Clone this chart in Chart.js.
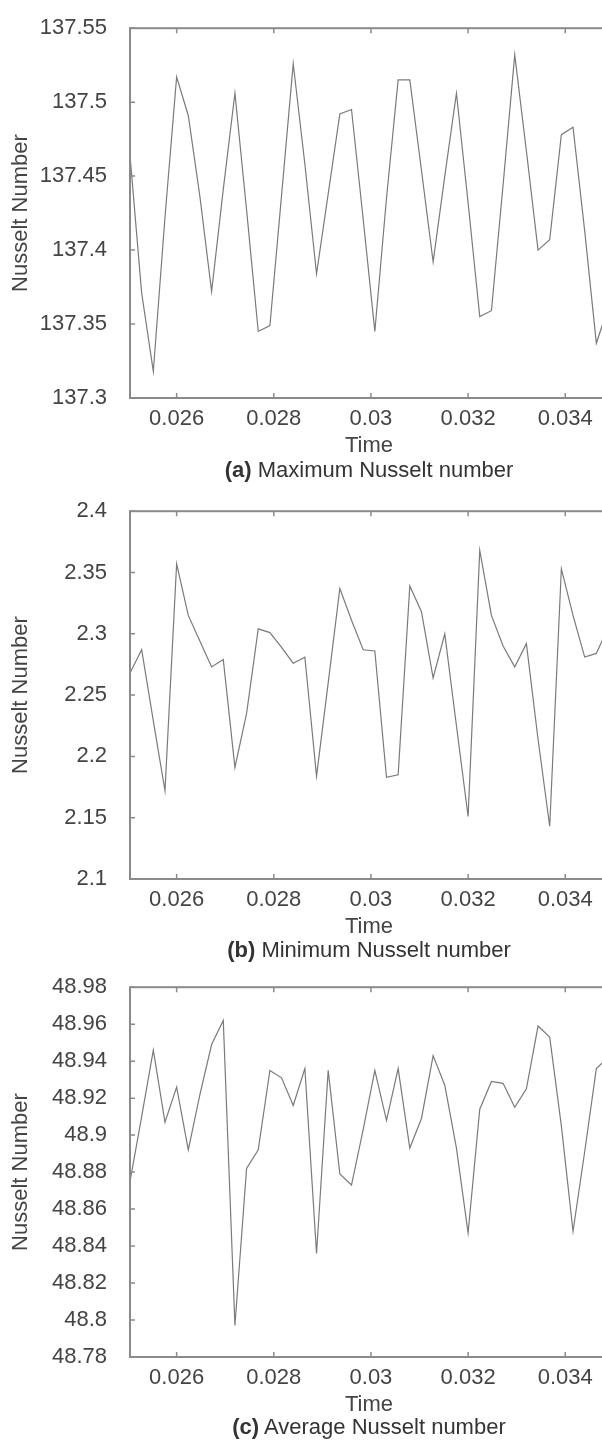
<!DOCTYPE html>
<html>
<head>
<meta charset="utf-8">
<script src="https://cdn.jsdelivr.net/npm/chart.js@4.4.1/dist/chart.umd.min.js"></script>
<style>
  html, body { margin: 0; padding: 0; background: #fff; overflow: hidden; }
  #wrap { position: relative; width: 602px; height: 1442px; overflow: hidden; }
  canvas { position: absolute; left: 0; }
  .cap {
    position: absolute; left: 130px; width: 478px; text-align: center;
    font: 22px "Liberation Sans", Arial, sans-serif; line-height: 26px; color: #333;
  }
</style>
</head>
<body>
<div id="wrap">
  <canvas id="nuMax" width="612" height="462" style="top:0px"></canvas>
  <div class="cap" style="top:457px"><b>(a)</b> Maximum Nusselt number</div>
  <canvas id="nuMin" width="612" height="460" style="top:483px"></canvas>
  <div class="cap" style="top:937px"><b>(b)</b> Minimum Nusselt number</div>
  <canvas id="nuAvg" width="612" height="462" style="top:959px"></canvas>
  <div class="cap" style="top:1414px"><b>(c)</b> Average Nusselt number</div>
</div>
<script>
// Eixo X: tempo (s)
const tempo = [
  0.02504, 0.02528, 0.02552, 0.02576, 0.02600, 0.02624, 0.02648, 0.02672, 0.02696, 0.02720,
  0.02744, 0.02768, 0.02792, 0.02816, 0.02840, 0.02864, 0.02888, 0.02912, 0.02936, 0.02960,
  0.02984, 0.03008, 0.03032, 0.03056, 0.03080, 0.03104, 0.03128, 0.03152, 0.03176, 0.03200,
  0.03224, 0.03248, 0.03272, 0.03296, 0.03320, 0.03344, 0.03368, 0.03392, 0.03416, 0.03440,
  0.03464, 0.03488
];

// (a) Maximum Nusselt number
const nuMax = [
  137.464, 137.371, 137.318, 137.422, 137.517, 137.491, 137.436, 137.372, 137.441, 137.506,
  137.427, 137.345, 137.349, 137.437, 137.526, 137.458, 137.384, 137.438, 137.492, 137.495,
  137.421, 137.345, 137.435, 137.515, 137.515, 137.454, 137.392, 137.450, 137.506, 137.432,
  137.355, 137.359, 137.444, 137.532, 137.467, 137.400, 137.407, 137.478, 137.483, 137.413,
  137.337, 137.361
];

// (b) Minimum Nusselt number
const nuMin = [
  2.268, 2.287, 2.229, 2.172, 2.357, 2.315, 2.294, 2.273, 2.279, 2.191,
  2.235, 2.304, 2.301, 2.289, 2.276, 2.281, 2.184, 2.260, 2.337, 2.311,
  2.287, 2.286, 2.183, 2.185, 2.339, 2.318, 2.264, 2.300, 2.225, 2.151,
  2.368, 2.315, 2.290, 2.273, 2.292, 2.214, 2.143, 2.353, 2.315, 2.281,
  2.284, 2.305
];

// (c) Average Nusselt number
const nuAvg = [
  48.875, 48.910, 48.946, 48.907, 48.926, 48.892, 48.922, 48.949, 48.962, 48.797,
  48.882, 48.892, 48.935, 48.931, 48.916, 48.936, 48.836, 48.935, 48.879, 48.873,
  48.903, 48.935, 48.908, 48.936, 48.893, 48.909, 48.943, 48.927, 48.893, 48.847,
  48.914, 48.929, 48.928, 48.915, 48.925, 48.959, 48.953, 48.905, 48.848, 48.891,
  48.936, 48.942
];

// Ticks
const xTicks = [0.026, 0.028, 0.030, 0.032, 0.034];
const yTicksMax = [137.3, 137.35, 137.4, 137.45, 137.5, 137.55];
const yTicksMin = [2.1, 2.15, 2.2, 2.25, 2.3, 2.35, 2.4];
const yTicksAvg = [48.78, 48.8, 48.82, 48.84, 48.86, 48.88, 48.9, 48.92, 48.94, 48.96, 48.98];

const fonte = { family: '"Liberation Sans", Arial, sans-serif', size: 22 };
const corTexto = '#444444';

// moldura com ticks para dentro, nos quatro lados
const moldura = {
  id: 'moldura',
  afterDatasetsDraw(chart) {
    const { ctx, chartArea: a, scales: { x, y } } = chart;
    ctx.save();
    ctx.strokeStyle = '#8a8a8a';
    ctx.lineWidth = 1.5;
    ctx.beginPath();
    x.ticks.forEach(t => {
      const px = x.getPixelForValue(t.value);
      ctx.moveTo(px, a.bottom); ctx.lineTo(px, a.bottom - 5);
      ctx.moveTo(px, a.top); ctx.lineTo(px, a.top + 5);
    });
    y.ticks.forEach(t => {
      const py = y.getPixelForValue(t.value);
      ctx.moveTo(a.left, py); ctx.lineTo(a.left + 5, py);
      ctx.moveTo(a.right, py); ctx.lineTo(a.right - 5, py);
    });
    ctx.stroke();
    ctx.lineWidth = 2;
    ctx.strokeRect(a.left, a.top, a.right - a.left, a.bottom - a.top);
    ctx.restore();
  }
};

function grafico(id, valores, yTicks) {
  const data = {
    datasets: [{
      data: tempo.map((t, i) => ({ x: t, y: valores[i] })),
      borderColor: '#7a7a7a',
      borderWidth: 1.2,
      pointRadius: 0,
      tension: 0
    }]
  };

  const config = {
    type: 'line',
    data: data,
    options: {
      responsive: false,
      animation: false,
      devicePixelRatio: 1,
      layout: { padding: { top: 16, right: 4, left: 0, bottom: 0 } },
      plugins: { legend: { display: false }, tooltip: { enabled: false } },
      scales: {
        x: {
          type: 'linear',
          min: tempo[0],
          max: tempo[tempo.length - 1],
          bounds: 'data',
          grid: { display: false },
          border: { display: false },
          afterBuildTicks: s => { s.ticks = xTicks.map(v => ({ value: v })); },
          afterFit: s => { s.height = 64; },
          ticks: {
            padding: 0, color: corTexto, font: fonte, maxRotation: 0, autoSkip: false,
            callback: v => String(+v.toFixed(4))
          },
          title: { display: true, text: 'Time', color: corTexto, font: fonte, padding: { top: 0, bottom: 3 } }
        },
        y: {
          min: yTicks[0],
          max: yTicks[yTicks.length - 1],
          bounds: 'data',
          grid: { display: false },
          border: { display: false },
          afterBuildTicks: s => { s.ticks = yTicks.map(v => ({ value: v })); },
          afterFit: s => { s.width = 130; },
          ticks: {
            padding: 15, color: corTexto, font: fonte, autoSkip: false,
            callback: v => String(+v.toFixed(3))
          },
          title: { display: true, text: 'Nusselt Number', color: corTexto, font: fonte, padding: { top: 8, bottom: 0 } }
        }
      }
    },
    plugins: [moldura]
  };

  return new Chart(document.getElementById(id), config);
}

const graficoMax = grafico('nuMax', nuMax, yTicksMax);
const graficoMin = grafico('nuMin', nuMin, yTicksMin);
const graficoAvg = grafico('nuAvg', nuAvg, yTicksAvg);
</script>
</body>
</html>
